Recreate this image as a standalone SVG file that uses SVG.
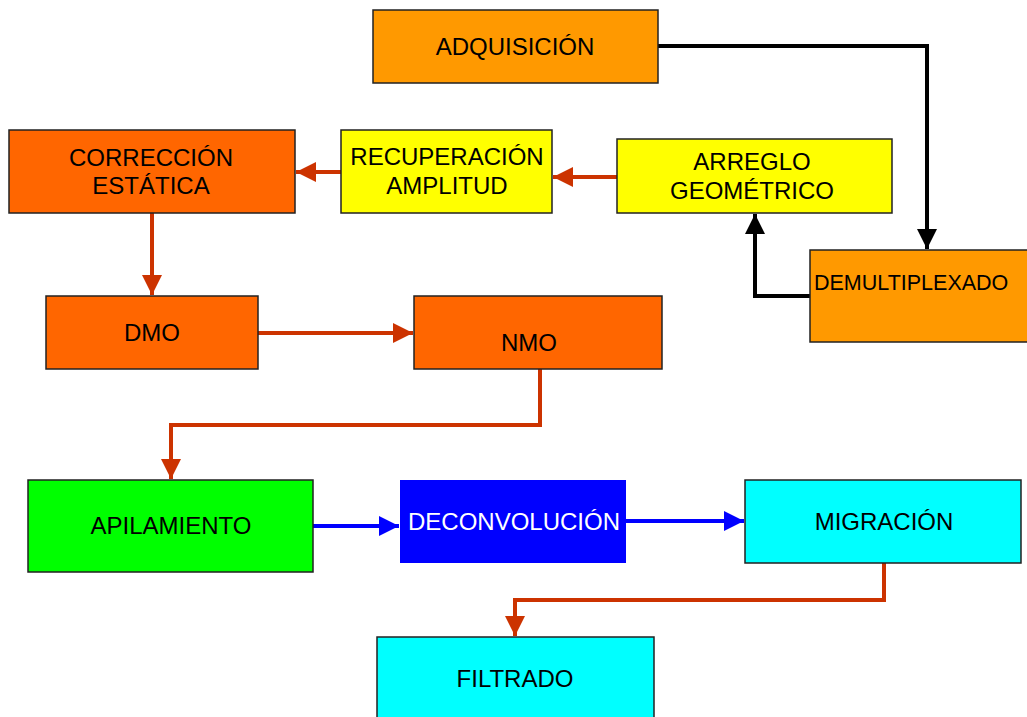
<svg xmlns="http://www.w3.org/2000/svg" width="1027" height="717" viewBox="0 0 1027 717">
<defs>
<style>
.n{stroke:#222;stroke-width:1.5}
.t{font-family:"Liberation Sans",Arial,sans-serif;font-size:24px;fill:#000;text-anchor:middle}
.r{fill:none;stroke:#CC3300;stroke-width:4}
.k{fill:none;stroke:#000;stroke-width:4}
.b{fill:none;stroke:#0000FF;stroke-width:4}
</style>
<marker id="ar" viewBox="0 0 10 10" refX="10" refY="5" markerWidth="5.5" markerHeight="5" orient="auto" markerUnits="strokeWidth"><path d="M0,0 L10,5 L0,10 z" fill="#CC3300"/></marker>
<marker id="ak" viewBox="0 0 10 10" refX="10" refY="5" markerWidth="5.5" markerHeight="5" orient="auto" markerUnits="strokeWidth"><path d="M0,0 L10,5 L0,10 z" fill="#000"/></marker>
<marker id="ab" viewBox="0 0 10 10" refX="10" refY="5" markerWidth="5.5" markerHeight="5" orient="auto" markerUnits="strokeWidth"><path d="M0,0 L10,5 L0,10 z" fill="#0000FF"/></marker>
</defs>
<rect width="1027" height="717" fill="#fff"/>
<g id="connectors">
<path class="k" d="M658,46 H927 V249" marker-end="url(#ak)"/>
<path class="k" d="M810,296 H755 V214" marker-end="url(#ak)"/>
<path class="r" d="M617,177 H553" marker-end="url(#ar)"/>
<path class="r" d="M341,172 H296" marker-end="url(#ar)"/>
<path class="r" d="M152,213 V295" marker-end="url(#ar)"/>
<path class="r" d="M258,333 H413" marker-end="url(#ar)"/>
<path class="r" d="M540,369 V425 H171 V479" marker-end="url(#ar)"/>
<path class="b" d="M313,526 H399" marker-end="url(#ab)"/>
<path class="b" d="M626,521 H744" marker-end="url(#ab)"/>
<path class="r" d="M884,563 V600 H515 V636" marker-end="url(#ar)"/>
</g>
<g id="adquisicion"><rect class="n" x="373" y="10" width="285" height="73" fill="#FF9900"/><text class="t" x="515" y="55">ADQUISICIÓN</text></g>
<g id="correccion"><rect class="n" x="9" y="130" width="286" height="83" fill="#FF6600"/><text class="t" x="151" y="166">CORRECCIÓN</text><text class="t" x="151" y="194">ESTÁTICA</text></g>
<g id="recuperacion"><rect class="n" x="341" y="130" width="211" height="83" fill="#FFFF00"/><text class="t" x="447" y="165">RECUPERACIÓN</text><text class="t" x="447" y="194">AMPLITUD</text></g>
<g id="arreglo"><rect class="n" x="617" y="139" width="275" height="74" fill="#FFFF00"/><text class="t" x="752" y="170">ARREGLO</text><text class="t" x="752" y="199">GEOMÉTRICO</text></g>
<g id="demultiplexado"><rect class="n" x="810" y="250" width="222" height="92" fill="#FF9900"/><text class="t" x="814" y="290" style="text-anchor:start;font-size:21.5px">DEMULTIPLEXADO</text></g>
<g id="dmo"><rect class="n" x="46" y="296" width="212" height="73" fill="#FF6600"/><text class="t" x="152" y="341">DMO</text></g>
<g id="nmo"><rect class="n" x="414" y="296" width="248" height="73" fill="#FF6600"/><text class="t" x="529" y="351">NMO</text></g>
<g id="apilamiento"><rect class="n" x="28" y="480" width="285" height="92" fill="#00FF00"/><text class="t" x="171" y="534">APILAMIENTO</text></g>
<g id="deconvolucion"><rect x="400" y="480" width="226" height="83" fill="#0000FF"/><text class="t" x="514" y="530" style="fill:#fff">DECONVOLUCIÓN</text></g>
<g id="migracion"><rect class="n" x="745" y="480" width="276" height="83" fill="#00FFFF"/><text class="t" x="884" y="530">MIGRACIÓN</text></g>
<g id="filtrado"><rect class="n" x="377" y="637" width="277" height="84" fill="#00FFFF"/><text class="t" x="515" y="687">FILTRADO</text></g>
</svg>
